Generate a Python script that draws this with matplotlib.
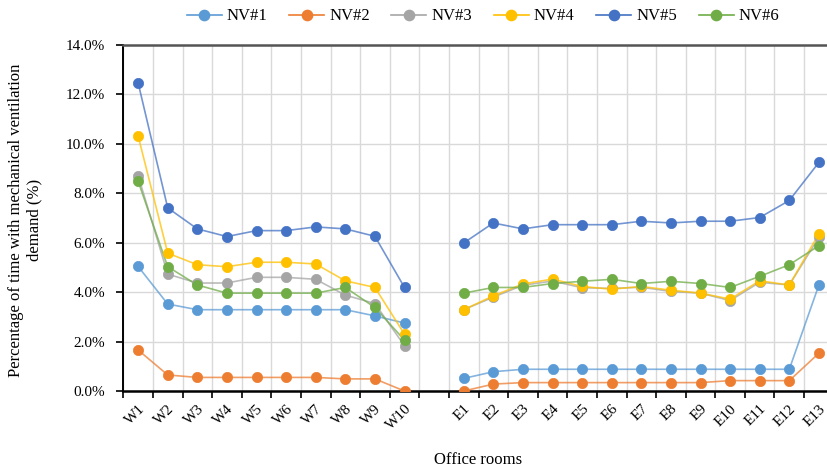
import matplotlib.pyplot as plt
from matplotlib.ticker import FuncFormatter, FixedLocator

plt.rcParams['font.family'] = ['Liberation Serif', 'DejaVu Serif']

rooms = ['W1', 'W2', 'W3', 'W4', 'W5', 'W6', 'W7', 'W8', 'W9', 'W10', '',
         'E1', 'E2', 'E3', 'E4', 'E5', 'E6', 'E7', 'E8', 'E9', 'E10', 'E11', 'E12', 'E13']

# percentages, None = empty gap between west and east wings
nv1 = [5.04, 3.52, 3.29, 3.29, 3.29, 3.29, 3.29, 3.29, 3.04, 2.75, None,
       0.51, 0.78, 0.88, 0.88, 0.88, 0.88, 0.88, 0.88, 0.88, 0.88, 0.88, 0.88, 4.29]
nv2 = [1.66, 0.65, 0.55, 0.55, 0.55, 0.55, 0.55, 0.49, 0.49, 0.0, None,
       0.0, 0.28, 0.34, 0.34, 0.34, 0.34, 0.34, 0.34, 0.34, 0.42, 0.42, 0.42, 1.53]
nv3 = [8.72, 4.73, 4.37, 4.37, 4.60, 4.60, 4.52, 3.88, 3.54, 1.83, None,
       3.29, 3.80, 4.28, 4.45, 4.18, 4.15, 4.20, 4.03, 3.96, 3.66, 4.40, 4.29, 6.22]
nv4 = [10.32, 5.58, 5.11, 5.03, 5.21, 5.21, 5.14, 4.46, 4.19, 2.30, None,
       3.29, 3.85, 4.33, 4.53, 4.23, 4.12, 4.23, 4.08, 3.96, 3.72, 4.46, 4.29, 6.36]
nv5 = [12.47, 7.41, 6.56, 6.25, 6.49, 6.49, 6.64, 6.56, 6.26, 4.19, None,
       5.99, 6.80, 6.56, 6.73, 6.73, 6.73, 6.87, 6.80, 6.87, 6.87, 7.02, 7.71, 9.25]
nv6 = [8.49, 5.03, 4.29, 3.96, 3.96, 3.96, 3.96, 4.19, 3.38, 2.06, None,
       3.96, 4.19, 4.19, 4.35, 4.44, 4.52, 4.35, 4.44, 4.35, 4.19, 4.64, 5.11, 5.88]

series = {'NV#1': nv1, 'NV#2': nv2, 'NV#3': nv3, 'NV#4': nv4, 'NV#5': nv5, 'NV#6': nv6}
colors = ['#5B9BD5', '#ED7D31', '#A5A5A5', '#FFC000', '#4472C4', '#70AD47']

fig = plt.figure(figsize=(8.27, 4.68), dpi=100)
ax = fig.add_axes([0.1491, 0.1645, 0.859, 0.7393])

x = list(range(len(rooms)))
for (name, vals), c in zip(series.items(), colors):
    # split into west / east segments so the gap is not bridged
    for seg in (range(0, 10), range(11, 24)):
        xs = [x[i] for i in seg]
        ys = [vals[i] for i in seg]
        ax.plot(xs, ys, color=c, lw=1.2, alpha=0.75, zorder=3)
        ax.plot(xs, ys, ls='none', marker='o', ms=7.4, color=c,
                mec=c, mew=0.5, zorder=4)
    ax.plot([], [], color=c, lw=1.2, marker='o', ms=7.4, label=name)

ax.set_xlim(-0.5, len(rooms) - 0.5)
ax.set_ylim(0, 14)
ax.set_yticks(range(0, 15, 2))
ax.yaxis.set_major_formatter(FuncFormatter(lambda v, _: f'{v:.1f}%'))

ax.set_xticks(x)
ax.set_xticklabels(rooms, rotation=45, ha='right', rotation_mode='anchor')
ax.tick_params(axis='x', which='major', length=0, pad=8, labelsize=11)
ax.xaxis.set_minor_locator(FixedLocator([i - 0.5 for i in range(len(rooms) + 1)]))
ax.tick_params(axis='x', which='minor', length=5, width=1.2, direction='out')
ax.tick_params(axis='y', length=5, width=1.2, labelsize=11, pad=8)

ax.grid(True, axis='y', which='major', color='#D9D9D9', lw=1)
ax.grid(True, axis='x', which='minor', color='#D9D9D9', lw=1)
ax.set_axisbelow(True)

ax.spines['bottom'].set_linewidth(1.8)
ax.spines['left'].set_linewidth(1.4)
ax.spines['top'].set_color('#555555')
ax.spines['top'].set_linewidth(1.8)
ax.spines['right'].set_visible(False)

ax.set_xlabel('Office rooms', fontsize=12, labelpad=14)
fig.text(0.03, 0.53, 'Percentage of time with mechanical ventilation\ndemand (%)',
         rotation=90, ha='center', va='center', fontsize=12, multialignment='center')

fig.legend(loc='center', bbox_to_anchor=(0.584, 0.965), ncol=6, frameon=False,
           fontsize=12, handlelength=2.1, columnspacing=1.3, handletextpad=0.3)

fig.savefig('out.png', dpi=100)
